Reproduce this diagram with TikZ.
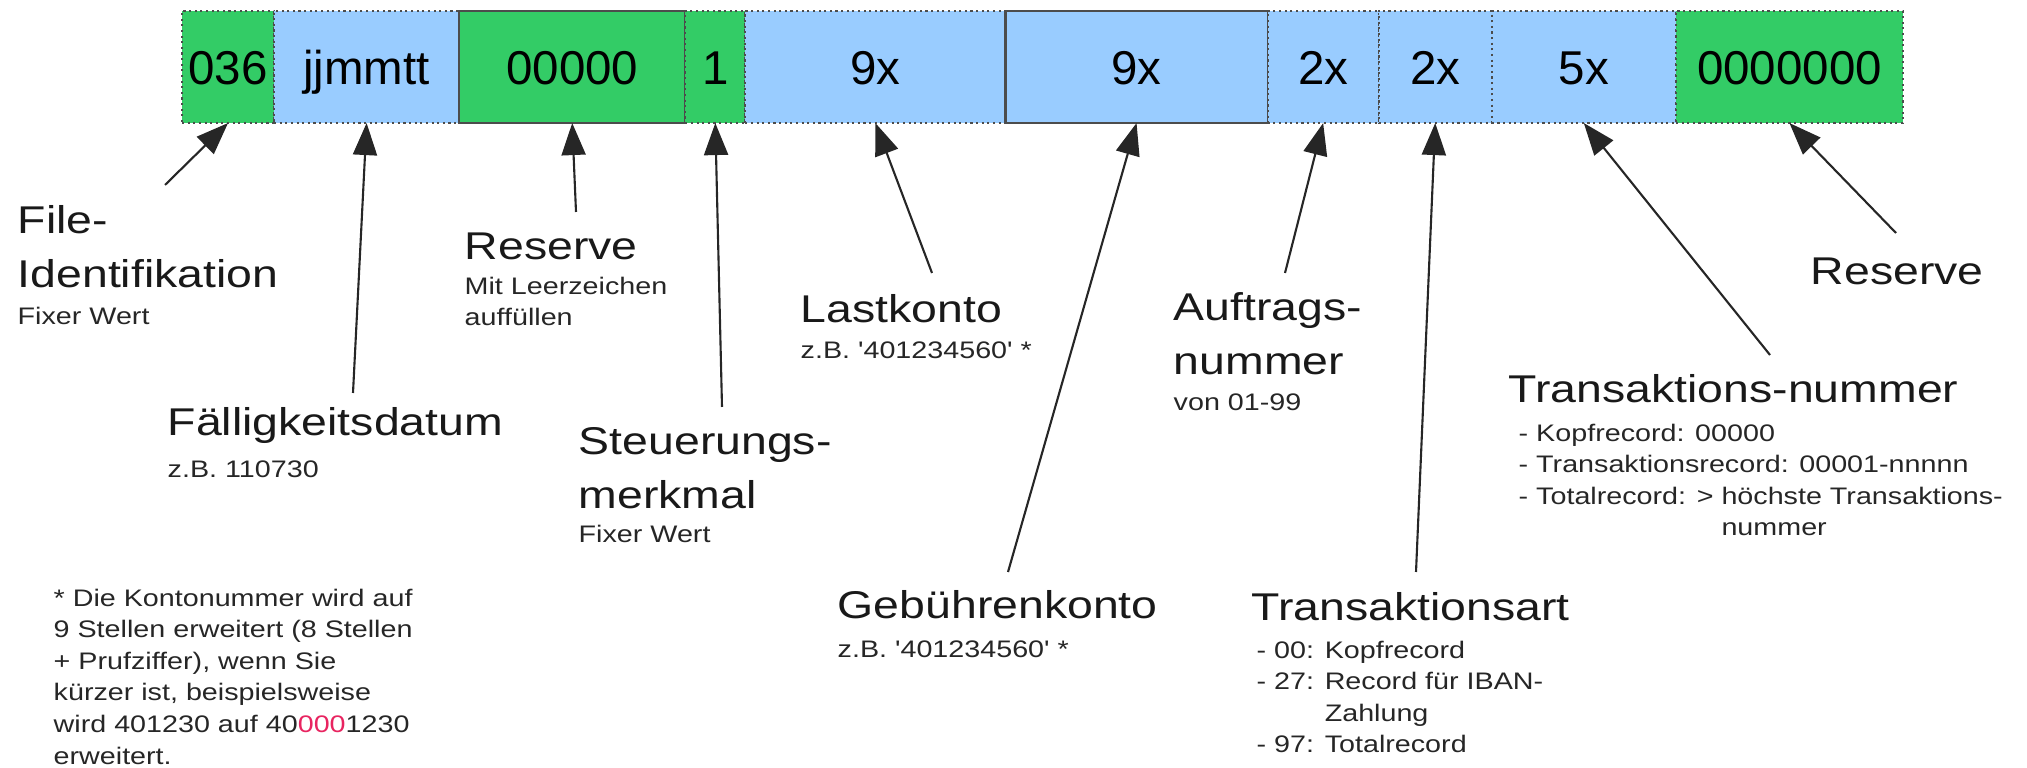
\documentclass[tikz,border=0pt]{standalone}
\usepackage{fontspec}
\setmainfont{Liberation Sans}
\newfontfamily\labfont[FakeStretch=1.2]{Liberation Sans}
\usetikzlibrary{arrows.meta, positioning}
\definecolor{fgreen}{RGB}{51,204,102}
\definecolor{fblue}{RGB}{153,204,255}
\definecolor{markred}{RGB}{232,36,96}

\begin{document}
\begin{tikzpicture}[
    x=0.01cm, y=-0.01cm,
    field/.style={draw=black!70, densely dotted, line width=0.6pt, minimum height=1.12cm,
      inner sep=0pt, outer sep=0pt, text height=9.7pt, text depth=0pt,
      font=\fontsize{13.5}{16}\selectfont},
    grnfield/.style={field, fill=fgreen},
    blufield/.style={field, fill=fblue},
    headlbl/.style={anchor=north west, inner sep=0pt, align=left, text=black!90,
      font=\labfont\fontsize{11}{15.3}\selectfont},
    sublbl/.style={anchor=north west, inner sep=0pt, align=left, text=black!85,
      font=\labfont\fontsize{6.8}{9}\selectfont},
    pointer/.style={draw=black!85, line width=0.6pt, -{Triangle[length=3.2mm, width=2.4mm]}},
  ]
  \useasboundingbox (0,0) rectangle (2027,768);

  % record fields
  \node[grnfield, anchor=north west, minimum width=0.92cm] (f036) at (182,11) {036};
  \node[blufield, minimum width=1.85cm, right=0pt of f036] (fdate) {jjmmtt};
  \node[grnfield, solid, minimum width=2.26cm, right=0pt of fdate] (fres) {00000};
  \node[grnfield, minimum width=0.60cm, right=0pt of fres] (fctl) {1};
  \node[blufield, minimum width=2.60cm, right=0pt of fctl] (flast) {9x};
  \node[blufield, solid, minimum width=2.62cm, right=0pt of flast] (fgeb) {9x};
  \node[blufield, minimum width=1.11cm, right=0pt of fgeb] (fauf) {2x};
  \node[blufield, minimum width=1.13cm, right=0pt of fauf] (fart) {2x};
  \node[blufield, minimum width=1.84cm, right=0pt of fart] (fnr) {5x};
  \node[grnfield, minimum width=2.27cm, right=0pt of fnr] (fres2) {0000000};

  % labels
  \node[headlbl] (fileid) at (17,205) {File-\\Identifikation};
  \node[sublbl] (fileidsub) at (17,306) {Fixer Wert};
  \node[headlbl] (faellig) at (167,407) {Fälligkeitsdatum};
  \node[sublbl] (faelligsub) at (167,460) {z.B. 110730};
  \node[headlbl] (reserve) at (464,232) {Reserve};
  \node[sublbl] (reservesub) at (464,276) {Mit Leerzeichen\\auffüllen};
  \node[headlbl] (steuer) at (578,427) {Steuerungs-\\merkmal};
  \node[sublbl] (steuersub) at (578,524) {Fixer Wert};
  \node[headlbl] (last) at (800,294) {Lastkonto};
  \node[sublbl] (lastsub) at (800,341) {z.B. '401234560' *};
  \node[headlbl] (geb) at (837,590) {Gebührenkonto};
  \node[sublbl] (gebsub) at (837,640) {z.B. '401234560' *};
  \node[headlbl] (auftrag) at (1173,292) {Auftrags-\\nummer};
  \node[sublbl] (auftragsub) at (1173,393) {von 01-99};
  \node[headlbl] (transart) at (1251,592) {Transaktionsart};
  \node[sublbl] (transartsub) at (1256,640) {- 00: Kopfrecord\\- 27: Record für IBAN-\\\phantom{- 27: }Zahlung\\- 97: Totalrecord};
  \node[headlbl] (transnr) at (1508,374) {Transaktions-nummer};
  \node[sublbl] (transnrsub) at (1518,423) {- Kopfrecord: 00000\\- Transaktionsrecord: 00001-nnnnn\\- Totalrecord: > höchste Transaktions-\\\phantom{- Totalrecord: > }nummer};
  \node[headlbl] (reserve2) at (1810,257) {Reserve};
  \node[sublbl] (footnote) at (53,588) {* Die Kontonummer wird auf\\9 Stellen erweitert (8 Stellen\\+ Prufziffer), wenn Sie\\kürzer ist, beispielsweise\\wird 401230 auf 40\textcolor{markred}{000}1230\\erweitert.};

  % arrow tails
  \coordinate (tfile) at (165,185);
  \coordinate (tdate) at (353,393);
  \coordinate (tres) at (576,212);
  \coordinate (tctl) at (722,407);
  \coordinate (tlast) at (932,273);
  \coordinate (tgeb) at (1008,572);
  \coordinate (tauf) at (1285,273);
  \coordinate (tart) at (1416,572);
  \coordinate (tnr) at (1770,355);
  \coordinate (tres2) at (1896,233);

  \draw[pointer] (tfile) -- (f036.south);
  \draw[pointer] (tdate) -- (fdate.south);
  \draw[pointer] (tres) -- (fres.south);
  \draw[pointer] (tctl) -- (fctl.south);
  \draw[pointer] (tlast) -- (flast.south);
  \draw[pointer] (tgeb) -- (fgeb.south);
  \draw[pointer] (tauf) -- (fauf.south);
  \draw[pointer] (tart) -- (fart.south);
  \draw[pointer] (tnr) -- (fnr.south);
  \draw[pointer] (tres2) -- (fres2.south);
\end{tikzpicture}
\end{document}
